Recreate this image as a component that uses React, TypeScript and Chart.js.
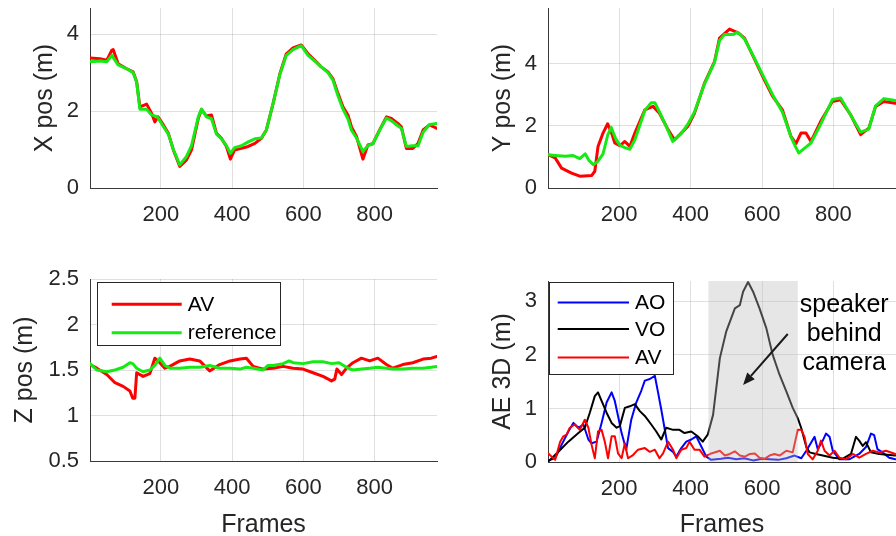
import React, { useEffect, useRef } from "react";
import { Chart, registerables } from "chart.js";

Chart.register(...registerables);

const FONT = '"Liberation Sans", Arial, Helvetica, sans-serif';
const INK = "#262626";
const GRID = "rgba(38,38,38,0.14)";
const AXIS = "#3a3a3a";
const RED = "#ff0000";
const GREEN = "rgb(20,235,20)";
const BLUE = "#0000ff";
const BLACK = "#000000";

// ---- shared frame axis ----
const FRAME_MIN = 1;
const FRAME_MAX = 975;
const frameTicks = [200, 400, 600, 800];
const frameTickLabels = ["200", "400", "600", "800"];

// ---- X position ----
const xPosFramesAV = [1, 29, 48, 62, 66, 80, 104, 122, 132, 141, 160, 174, 183, 192, 207, 221, 235, 253, 272, 286, 305, 314, 328, 342, 356, 370, 384, 395, 407, 426, 445, 464, 482, 496, 515, 534, 552, 571, 594, 613, 632, 650, 669, 683, 697, 711, 725, 735, 749, 767, 781, 795, 814, 833, 847, 865, 875, 889, 907, 922, 936, 954, 975];
const xPosAV = [3.38, 3.36, 3.32, 3.58, 3.6, 3.23, 3.1, 3.02, 2.76, 2.11, 2.18, 1.94, 1.72, 1.85, 1.64, 1.42, 0.99, 0.56, 0.73, 0.99, 1.81, 2.04, 1.87, 1.9, 1.42, 1.29, 1.08, 0.75, 0.99, 1.03, 1.08, 1.16, 1.29, 1.51, 2.2, 2.97, 3.49, 3.64, 3.72, 3.49, 3.32, 3.15, 3.02, 2.84, 2.46, 2.11, 1.9, 1.59, 1.34, 0.75, 1.12, 1.15, 1.51, 1.85, 1.81, 1.68, 1.59, 1.03, 1.03, 1.16, 1.51, 1.64, 1.55];
const xPosFramesRef = [1, 30, 48, 62, 80, 104, 122, 132, 141, 160, 174, 190, 207, 221, 235, 253, 272, 286, 305, 314, 328, 342, 356, 370, 384, 395, 407, 426, 445, 464, 482, 496, 515, 534, 552, 571, 594, 613, 632, 650, 669, 683, 697, 711, 725, 735, 749, 767, 781, 795, 814, 833, 847, 865, 875, 889, 907, 922, 936, 954, 975];
const xPosRef = [3.28, 3.3, 3.28, 3.45, 3.2, 3.1, 3.0, 2.75, 2.05, 2.05, 1.9, 1.85, 1.6, 1.4, 1.0, 0.6, 0.82, 1.1, 1.85, 2.05, 1.85, 1.8, 1.4, 1.28, 1.1, 0.9, 1.05, 1.1, 1.2, 1.28, 1.3, 1.5, 2.2, 2.95, 3.45, 3.6, 3.7, 3.45, 3.3, 3.15, 3.0, 2.8, 2.4, 2.05, 1.8, 1.5, 1.3, 0.95, 1.1, 1.15, 1.5, 1.82, 1.75, 1.62, 1.55, 1.08, 1.1, 1.1, 1.45, 1.65, 1.68];
const xPosTicks = [0, 2, 4];
const xPosTickLabels = ["0", "2", "4"];

// ---- Y position ----
const yPosFramesAV = [2, 21, 39, 67, 90, 123, 132, 141, 155, 168, 179, 188, 202, 216, 230, 244, 272, 295, 313, 337, 355, 374, 392, 411, 439, 467, 481, 509, 532, 551, 578, 606, 630, 657, 681, 695, 709, 723, 737, 764, 797, 820, 848, 876, 899, 918, 941, 973];
const yPosAV = [1.07, 0.97, 0.64, 0.48, 0.38, 0.4, 0.54, 1.34, 1.77, 2.07, 1.77, 1.45, 1.36, 1.5, 1.34, 1.77, 2.52, 2.63, 2.41, 1.88, 1.55, 1.77, 1.98, 2.41, 3.38, 4.07, 4.83, 5.12, 5.01, 4.83, 4.18, 3.49, 2.95, 2.52, 1.66, 1.43, 1.77, 1.77, 1.5, 2.14, 2.79, 2.84, 2.36, 1.72, 1.93, 2.63, 2.79, 2.73];
const yPosFramesRef = [2, 21, 50, 70, 90, 105, 115, 128, 140, 155, 168, 178, 190, 202, 216, 230, 244, 272, 290, 300, 313, 337, 350, 374, 392, 411, 439, 467, 481, 495, 520, 532, 551, 578, 606, 630, 657, 681, 695, 703, 723, 737, 764, 797, 820, 848, 876, 899, 918, 941, 973];
const yPosRef = [1.07, 1.05, 1.02, 1.05, 0.95, 1.1, 0.9, 0.75, 0.85, 1.1, 1.7, 1.95, 1.6, 1.38, 1.3, 1.25, 1.55, 2.5, 2.75, 2.75, 2.45, 1.85, 1.5, 1.75, 2.05, 2.45, 3.35, 4.05, 4.75, 4.95, 4.95, 5.02, 4.8, 4.2, 3.55, 3.0, 2.45, 1.65, 1.3, 1.13, 1.32, 1.45, 2.05, 2.85, 2.9, 2.35, 1.8, 1.9, 2.65, 2.88, 2.82];
const yPosTicks = [0, 2, 4];
const yPosTickLabels = ["0", "2", "4"];

// ---- Z position ----
const zPosFramesAV = [1, 20, 48, 71, 94, 113, 121, 127, 132, 150, 169, 183, 197, 211, 225, 253, 281, 309, 337, 365, 394, 422, 440, 459, 487, 515, 543, 571, 599, 627, 655, 679, 688, 694, 707, 721, 739, 763, 786, 809, 833, 851, 879, 907, 936, 959, 975];
const zPosAV = [1.56, 1.52, 1.45, 1.36, 1.32, 1.27, 1.19, 1.19, 1.47, 1.43, 1.46, 1.63, 1.58, 1.52, 1.54, 1.6, 1.62, 1.6, 1.49, 1.56, 1.6, 1.62, 1.63, 1.54, 1.51, 1.52, 1.54, 1.52, 1.51, 1.47, 1.43, 1.38, 1.4, 1.51, 1.45, 1.52, 1.58, 1.63, 1.6, 1.63, 1.56, 1.52, 1.56, 1.58, 1.62, 1.63, 1.65];
const zPosFramesRef = [1, 20, 48, 71, 94, 113, 121, 132, 150, 169, 183, 197, 211, 225, 253, 281, 309, 337, 365, 394, 422, 440, 459, 487, 500, 515, 543, 560, 571, 599, 627, 655, 679, 700, 721, 739, 763, 786, 809, 833, 851, 879, 907, 936, 959, 975];
const zPosRef = [1.57, 1.5, 1.48, 1.5, 1.53, 1.58, 1.57, 1.52, 1.48, 1.5, 1.55, 1.63, 1.55, 1.52, 1.52, 1.53, 1.53, 1.55, 1.52, 1.52, 1.51, 1.53, 1.52, 1.5, 1.55, 1.55, 1.57, 1.6, 1.58, 1.57, 1.59, 1.59, 1.57, 1.58, 1.53, 1.5, 1.51, 1.52, 1.53, 1.52, 1.51, 1.51, 1.52, 1.52, 1.53, 1.54];
const zPosTicks = [0.5, 1, 1.5, 2, 2.5];
const zPosTickLabels = ["0.5", "1", "1.5", "2", "2.5"];

// ---- AE 3D ----
const aeFramesAO = [2, 21, 39, 58, 72, 86, 100, 114, 123, 137, 151, 165, 179, 188, 197, 207, 220, 234, 248, 262, 272, 286, 300, 309, 318, 327, 337, 351, 360, 374, 388, 402, 416, 430, 444, 458, 485, 505, 528, 550, 575, 600, 621, 645, 668, 691, 710, 724, 738, 747, 756, 770, 779, 789, 798, 817, 844, 872, 891, 905, 914, 923, 937, 956, 973];
const aeAO = [0.03, 0.07, 0.32, 0.57, 0.73, 0.64, 0.7, 0.42, 0.35, 0.38, 0.73, 1.11, 1.3, 1.14, 0.86, 0.54, 0.23, 0.79, 1.11, 1.33, 1.52, 1.55, 1.61, 1.3, 0.98, 0.64, 0.26, 0.19, 0.1, 0.26, 0.38, 0.42, 0.48, 0.29, 0.1, 0.04, 0.06, 0.08, 0.05, 0.07, 0.03, 0.06, 0.05, 0.04, 0.07, 0.12, 0.07, 0.21, 0.37, 0.47, 0.24, 0.4, 0.53, 0.47, 0.21, 0.05, 0.05, 0.15, 0.28, 0.53, 0.5, 0.24, 0.18, 0.08, 0.05];
const aeFramesVO = [2, 30, 58, 86, 104, 118, 132, 141, 151, 165, 179, 193, 202, 216, 230, 244, 258, 272, 290, 304, 318, 332, 351, 369, 383, 402, 420, 434, 448, 463, 482, 500, 524, 538, 547, 561, 575, 593, 612, 630, 649, 668, 686, 700, 710, 724, 733, 751, 770, 798, 825, 849, 863, 872, 882, 891, 905, 928, 973];
const aeVO = [0.01, 0.19, 0.38, 0.54, 0.64, 0.92, 1.23, 1.3, 1.14, 0.92, 0.73, 0.64, 0.67, 1.01, 1.04, 1.08, 0.95, 0.86, 0.7, 0.57, 0.42, 0.64, 0.6, 0.6, 0.54, 0.57, 0.48, 0.38, 0.51, 0.88, 1.94, 2.44, 2.87, 2.93, 3.18, 3.36, 3.18, 2.87, 2.5, 2.0, 1.63, 1.32, 1.01, 0.82, 0.63, 0.28, 0.18, 0.15, 0.12, 0.08, 0.06, 0.15, 0.47, 0.4, 0.3, 0.37, 0.18, 0.15, 0.12];
const aeFramesAV = [2, 11, 21, 35, 44, 53, 62, 76, 90, 104, 114, 123, 132, 141, 151, 160, 169, 179, 188, 197, 207, 216, 225, 239, 253, 272, 286, 300, 313, 323, 337, 351, 360, 374, 388, 397, 411, 425, 439, 458, 482, 496, 510, 524, 538, 552, 566, 580, 593, 607, 621, 635, 649, 668, 686, 700, 710, 719, 728, 742, 756, 765, 775, 789, 803, 817, 835, 854, 872, 891, 910, 928, 947, 973];
const aeAV = [0.16, 0.1, 0.04, 0.38, 0.48, 0.51, 0.64, 0.7, 0.6, 0.79, 0.64, 0.32, 0.07, 0.57, 0.6, 0.38, 0.07, 0.48, 0.48, 0.16, 0.07, 0.35, 0.07, 0.13, 0.23, 0.26, 0.19, 0.23, 0.07, 0.16, 0.38, 0.23, 0.07, 0.23, 0.26, 0.38, 0.23, 0.23, 0.1, 0.16, 0.21, 0.12, 0.15, 0.2, 0.12, 0.1, 0.15, 0.16, 0.08, 0.06, 0.12, 0.15, 0.12, 0.21, 0.18, 0.6, 0.6, 0.47, 0.15, 0.05, 0.21, 0.4, 0.21, 0.12, 0.21, 0.08, 0.05, 0.15, 0.08, 0.15, 0.21, 0.18, 0.21, 0.15];
const aeTicks = [0, 1, 2, 3];
const aeTickLabels = ["0", "1", "2", "3"];
const aeMax = 3.38;

// annotation (in data units)
const shadeFrames = [450, 700];
const arrowFrom = { x: 672, y: 2.39 };
const arrowTo = { x: 547, y: 1.44 };
const noteFrame = 830;
const noteLines = ["speaker", "behind", "camera"];
const noteBaselines = [2.81, 2.26, 1.71];

function pts(frames: number[], vals: number[]) {
  return frames.map((f, i) => ({ x: f, y: vals[i] }));
}

function line(label: string, frames: number[], vals: number[], color: string, width: number, order: number) {
  return {
    label,
    data: pts(frames, vals),
    borderColor: color,
    backgroundColor: color,
    borderWidth: width,
    pointRadius: 0,
    tension: 0,
    borderJoinStyle: "round" as const,
    borderCapStyle: "round" as const,
    fill: false,
    order,
  };
}

type Legend = {
  x: number; y: number; w: number; h: number;
  rows: number[]; rowY: number[];
  lx0: number; lx1: number; tx: number; lw: number; font: number;
};

type PanelCfg = {
  left: number; top: number; w: number; h: number;
  area: { l: number; t: number; r: number; b: number };
  yMin: number; yMax: number;
  yTicks: number[]; yTickLabels: string[];
  yTitle: string; yTitlePad: number;
  xTitle?: string; xTitlePad?: number;
  datasets: any[];
  legend?: Legend;
  annotate?: boolean;
};

function Panel({ cfg }: { cfg: PanelCfg }) {
  const ref = useRef<HTMLCanvasElement>(null);
  useEffect(() => {
    const canvas = ref.current!;
    const decor = {
      id: "decor",
      afterDatasetsDraw(chart: any) {
        if (!cfg.annotate) return;
        const { ctx, chartArea } = chart;
        const xs = chart.scales.x;
        const ys = chart.scales.y;
        const x0 = xs.getPixelForValue(shadeFrames[0]);
        const x1 = xs.getPixelForValue(shadeFrames[1]);
        const yb = ys.getPixelForValue(0);
        ctx.save();
        ctx.fillStyle = "rgba(186,186,186,0.37)";
        ctx.fillRect(x0, chartArea.top, x1 - x0, yb - chartArea.top);
        ctx.restore();
      },
      afterDraw(chart: any) {
        const { ctx, chartArea } = chart;
        const xs = chart.scales.x;
        const ys = chart.scales.y;
        if (cfg.annotate) {
          const sx = xs.getPixelForValue(arrowFrom.x);
          const sy = ys.getPixelForValue(arrowFrom.y);
          const ex = xs.getPixelForValue(arrowTo.x);
          const ey = ys.getPixelForValue(arrowTo.y);
          const ang = Math.atan2(ey - sy, ex - sx);
          const hl = 12, hw = 5;
          const bx = ex - hl * Math.cos(ang);
          const by = ey - hl * Math.sin(ang);
          ctx.save();
          ctx.strokeStyle = "#1a1a1a";
          ctx.fillStyle = "#1a1a1a";
          ctx.lineWidth = 2;
          ctx.beginPath();
          ctx.moveTo(sx, sy);
          ctx.lineTo(bx, by);
          ctx.stroke();
          ctx.beginPath();
          ctx.moveTo(ex, ey);
          ctx.lineTo(bx + hw * Math.sin(ang), by - hw * Math.cos(ang));
          ctx.lineTo(bx - hw * Math.sin(ang), by + hw * Math.cos(ang));
          ctx.closePath();
          ctx.fill();
          ctx.fillStyle = "#000";
          ctx.font = `25px ${FONT}`;
          ctx.textAlign = "center";
          ctx.textBaseline = "alphabetic";
          noteLines.forEach((t, i) => {
            ctx.fillText(t, xs.getPixelForValue(noteFrame), ys.getPixelForValue(noteBaselines[i]));
          });
          ctx.restore();
        }
        const L = cfg.legend;
        if (L) {
          const bx = chartArea.left + L.x;
          const by = chartArea.top + L.y;
          ctx.save();
          ctx.fillStyle = "#fff";
          ctx.fillRect(bx, by, L.w, L.h);
          ctx.strokeStyle = INK;
          ctx.lineWidth = 1;
          ctx.strokeRect(Math.round(bx) + 0.5, Math.round(by) + 0.5, L.w, L.h);
          ctx.font = `${L.font}px ${FONT}`;
          ctx.textAlign = "left";
          ctx.textBaseline = "middle";
          L.rows.forEach((di, k) => {
            const ds = chart.data.datasets[di];
            const yy = by + L.rowY[k];
            ctx.strokeStyle = ds.borderColor;
            ctx.lineWidth = L.lw;
            ctx.beginPath();
            ctx.moveTo(bx + L.lx0, yy);
            ctx.lineTo(bx + L.lx1, yy);
            ctx.stroke();
            ctx.fillStyle = "#000";
            ctx.fillText(ds.label, bx + L.tx, yy + 1);
          });
          ctx.restore();
        }
      },
    };

    const chart = new Chart(canvas, {
      type: "line",
      data: { datasets: cfg.datasets },
      options: {
        responsive: false,
        animation: false,
        devicePixelRatio: 1,
        parsing: false as any,
        normalized: true,
        layout: {
          autoPadding: false,
          padding: { left: 0, top: cfg.area.t, right: cfg.w - cfg.area.r, bottom: 0 },
        },
        plugins: { legend: { display: false }, tooltip: { enabled: false } },
        scales: {
          x: {
            type: "linear",
            min: FRAME_MIN,
            max: FRAME_MAX,
            afterBuildTicks: (s: any) => {
              s.ticks = frameTicks.map((v) => ({ value: v }));
            },
            afterFit: (s: any) => {
              s.height = cfg.h - cfg.area.b;
              s.paddingLeft = 0;
              s.paddingRight = 0;
            },
            ticks: {
              autoSkip: false,
              maxRotation: 0,
              padding: 14,
              color: INK,
              font: { family: FONT, size: 22 },
              callback: (v: any) => frameTickLabels[frameTicks.indexOf(Number(v))] ?? "",
            },
            grid: { color: GRID, drawTicks: false, lineWidth: 1 },
            border: { color: AXIS, width: 1 },
            title: cfg.xTitle
              ? {
                  display: true,
                  text: cfg.xTitle,
                  color: INK,
                  font: { family: FONT, size: 25 },
                  padding: { top: 0, bottom: cfg.xTitlePad ?? 8 },
                }
              : { display: false },
          },
          y: {
            type: "linear",
            min: cfg.yMin,
            max: cfg.yMax,
            afterBuildTicks: (s: any) => {
              s.ticks = cfg.yTicks.map((v) => ({ value: v }));
            },
            afterFit: (s: any) => {
              s.width = cfg.area.l;
              s.paddingTop = 0;
              s.paddingBottom = 0;
            },
            ticks: {
              autoSkip: false,
              padding: 11,
              color: INK,
              font: { family: FONT, size: 22 },
              callback: (v: any) => cfg.yTickLabels[cfg.yTicks.indexOf(Number(v))] ?? "",
            },
            grid: { color: GRID, drawTicks: false, lineWidth: 1 },
            border: { color: AXIS, width: 1 },
            title: {
              display: true,
              text: cfg.yTitle,
              color: INK,
              font: { family: FONT, size: 25 },
              padding: { top: cfg.yTitlePad, bottom: 0 },
            },
          },
        },
      } as any,
      plugins: [decor],
    });
    return () => chart.destroy();
  }, [cfg]);

  return (
    <canvas
      ref={ref}
      width={cfg.w}
      height={cfg.h}
      style={{ position: "absolute", left: cfg.left, top: cfg.top, width: cfg.w, height: cfg.h }}
    />
  );
}

const panels: PanelCfg[] = [
  {
    left: 0, top: 0, w: 448, h: 268,
    area: { l: 90, t: 8, r: 437, b: 188 },
    yMin: 0, yMax: 4.68, yTicks: xPosTicks, yTickLabels: xPosTickLabels,
    yTitle: "X pos (m)", yTitlePad: 30,
    datasets: [
      line("AV", xPosFramesAV, xPosAV, RED, 3, 2),
      line("reference", xPosFramesRef, xPosRef, GREEN, 3, 1),
    ],
  },
  {
    left: 448, top: 0, w: 448, h: 268,
    area: { l: 100, t: 8, r: 448, b: 188 },
    yMin: 0, yMax: 5.8, yTicks: yPosTicks, yTickLabels: yPosTickLabels,
    yTitle: "Y pos (m)", yTitlePad: 40,
    datasets: [
      line("AV", yPosFramesAV, yPosAV, RED, 3, 2),
      line("reference", yPosFramesRef, yPosRef, GREEN, 3, 1),
    ],
  },
  {
    left: 0, top: 268, w: 448, h: 280,
    area: { l: 90, t: 11, r: 437, b: 193 },
    yMin: 0.5, yMax: 2.5, yTicks: zPosTicks, yTickLabels: zPosTickLabels,
    yTitle: "Z pos (m)", yTitlePad: 10,
    xTitle: "Frames", xTitlePad: 8,
    datasets: [
      line("AV", zPosFramesAV, zPosAV, RED, 3, 2),
      line("reference", zPosFramesRef, zPosRef, GREEN, 3, 1),
    ],
    legend: { x: 6.7, y: 3, w: 183, h: 63, rows: [0, 1], rowY: [22.3, 50.7], lx0: 15, lx1: 85, tx: 91, lw: 3, font: 21 },
  },
  {
    left: 448, top: 268, w: 448, h: 280,
    area: { l: 100, t: 13, r: 448, b: 194 },
    yMin: 0, yMax: aeMax, yTicks: aeTicks, yTickLabels: aeTickLabels,
    yTitle: "AE 3D (m)", yTitlePad: 40,
    xTitle: "Frames", xTitlePad: 8,
    datasets: [
      line("AO", aeFramesAO, aeAO, BLUE, 2, 3),
      line("VO", aeFramesVO, aeVO, BLACK, 2, 2),
      line("AV", aeFramesAV, aeAV, RED, 2, 1),
    ],
    legend: { x: 1, y: 0.7, w: 124, h: 92, rows: [0, 1, 2], rowY: [20.7, 47.3, 75.7], lx0: 8.7, lx1: 80, tx: 86, lw: 2, font: 21 },
    annotate: true,
  },
];

export default function App() {
  return (
    <div
      style={{
        position: "absolute",
        left: 0,
        top: 0,
        width: 896,
        height: 536,
        overflow: "hidden",
        background: "#fff",
      }}
    >
      {panels.map((p, i) => (
        <Panel key={i} cfg={p} />
      ))}
    </div>
  );
}
